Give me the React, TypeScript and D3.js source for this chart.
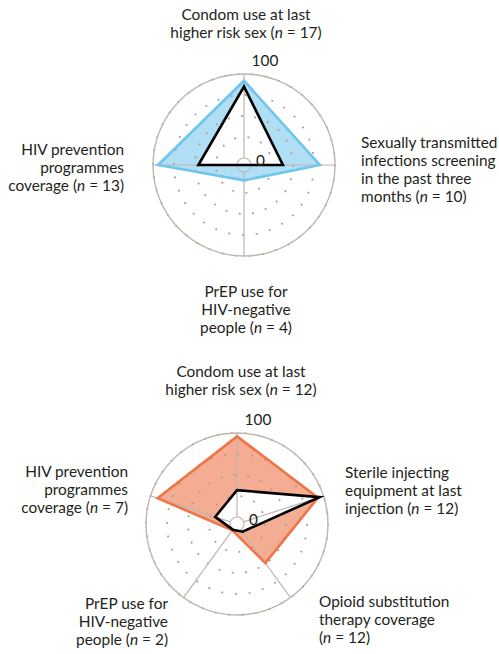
import React from "react";
import * as d3 from "d3";

// sex-related indicators (top chart)
const sexLabels = [
  ["Condom use at last", "higher risk sex (|n| = 17)"],
  ["Sexually transmitted", "infections screening", "in the past three", "months (|n| = 10)"],
  ["PrEP use for", "HIV-negative", "people (|n| = 4)"],
  ["HIV prevention", "programmes", "coverage (|n| = 13)"],
];
const sexRegion = [92, 82, 10, 94];
const sexCountry = [85, 38, null, 46];

// injecting-related indicators (bottom chart)
const injLabels = [
  ["Condom use at last", "higher risk sex (|n| = 12)"],
  ["Sterile injecting", "equipment at last", "injection (|n| = 12)"],
  ["Opioid substitution", "therapy coverage", "(|n| = 12)"],
  ["PrEP use for", "HIV-negative", "people (|n| = 2)"],
  ["HIV prevention", "programmes", "coverage (|n| = 7)"],
];
const injRegion = [96, 93, 49, 1, 91];
const injCountry = [32, 95, 3, 0, 19];

const ringTicks = [25, 50, 75, 100];

const GRID = "#bfb6ae";
const TEXT = "#231f20";
const FS = 15.4;

const Label = ({ lines, x, y, anchor }) => (
  <text x={x} y={y} textAnchor={anchor} fontSize={FS} fill={TEXT}>
    {lines.map((line, i) => {
      const parts = line.split("|");
      return (
        <tspan key={i} x={x} dy={i === 0 ? 0 : 18}>
          {parts.map((p, j) => (
            <tspan key={j} fontStyle={j === 1 ? "italic" : "normal"}>
              {p}
            </tspan>
          ))}
        </tspan>
      );
    })}
  </text>
);

const Radar = ({ cx, cy, region, country, fill, stroke, labels, labelPos }) => {
  const n = region.length;
  const r = d3.scaleLinear().domain([0, 100]).range([7, 91]);
  const angle = d3
    .scaleLinear()
    .domain([0, n])
    .range([0, 2 * Math.PI]);

  const line = d3
    .lineRadial()
    .angle((d) => angle(d.i))
    .radius((d) => r(d.v))
    .curve(d3.curveLinearClosed);

  const pts = (vals) =>
    vals.map((v, i) => ({ v, i })).filter((d) => d.v !== null);

  return (
    <g transform={`translate(${cx}, ${cy})`}>
      <path d={line(pts(region))} fill={fill} />
      <path d={line(pts(country))} fill="#fff" />
      {ringTicks.map((t) => (
        <circle
          key={t}
          r={r(t)}
          fill="none"
          stroke="#a89c94"
          strokeWidth={1.8}
          strokeDasharray={`1.8 ${(2 * Math.PI * r(t)) / Math.round((2 * Math.PI * r(t)) / 13.6) - 1.8}`}
        />
      ))}
      <circle r={r(100)} fill="none" stroke={GRID} strokeWidth={1.4} />
      <circle r={r(0)} fill="none" stroke={GRID} strokeWidth={1.2} />
      {region.map((_, i) => {
        const a = angle(i);
        return (
          <line
            key={i}
            x1={r(0) * Math.sin(a)}
            y1={-r(0) * Math.cos(a)}
            x2={r(100) * Math.sin(a)}
            y2={-r(100) * Math.cos(a)}
            stroke={GRID}
            strokeWidth={1.2}
          />
        );
      })}
      <path d={line(pts(region))} fill="none" stroke={stroke} strokeWidth={2.6} strokeLinejoin="miter" />
      <path d={line(pts(country))} fill="none" stroke="#000" strokeWidth={2.6} strokeLinejoin="miter" />
      <text x={21} y={-r(100) - 8} textAnchor="middle" fontSize={FS} fill={TEXT}>
        100
      </text>
      <text x={12} y={1} fontSize={FS} fill={TEXT}>
        0
      </text>
      {labels.map((lines, i) => (
        <Label key={i} lines={lines} x={labelPos[i][0]} y={labelPos[i][1]} anchor={labelPos[i][2]} />
      ))}
    </g>
  );
};

export default function App() {
  return (
    <svg
      width={499}
      height={654}
      style={{ position: "absolute", left: 0, top: 0, fontFamily: "Lato, sans-serif" }}
    >
      <rect width={499} height={654} fill="#fff" />
      <Radar
        cx={244}
        cy={165}
        region={sexRegion}
        country={sexCountry}
        fill="#b0def4"
        stroke="#6fc5ec"
        labels={sexLabels}
        labelPos={[
          [2, -145, "middle"],
          [117, -17, "start"],
          [2, 132, "middle"],
          [-120, -10, "end"],
        ]}
      />
      <Radar
        cx={237}
        cy={524}
        region={injRegion}
        country={injCountry}
        fill="#f4ad92"
        stroke="#ef7446"
        labels={injLabels}
        labelPos={[
          [4, -147, "middle"],
          [108, -46, "start"],
          [82, 83, "start"],
          [-69, 85, "end"],
          [-109, -47, "end"],
        ]}
      />
    </svg>
  );
}
